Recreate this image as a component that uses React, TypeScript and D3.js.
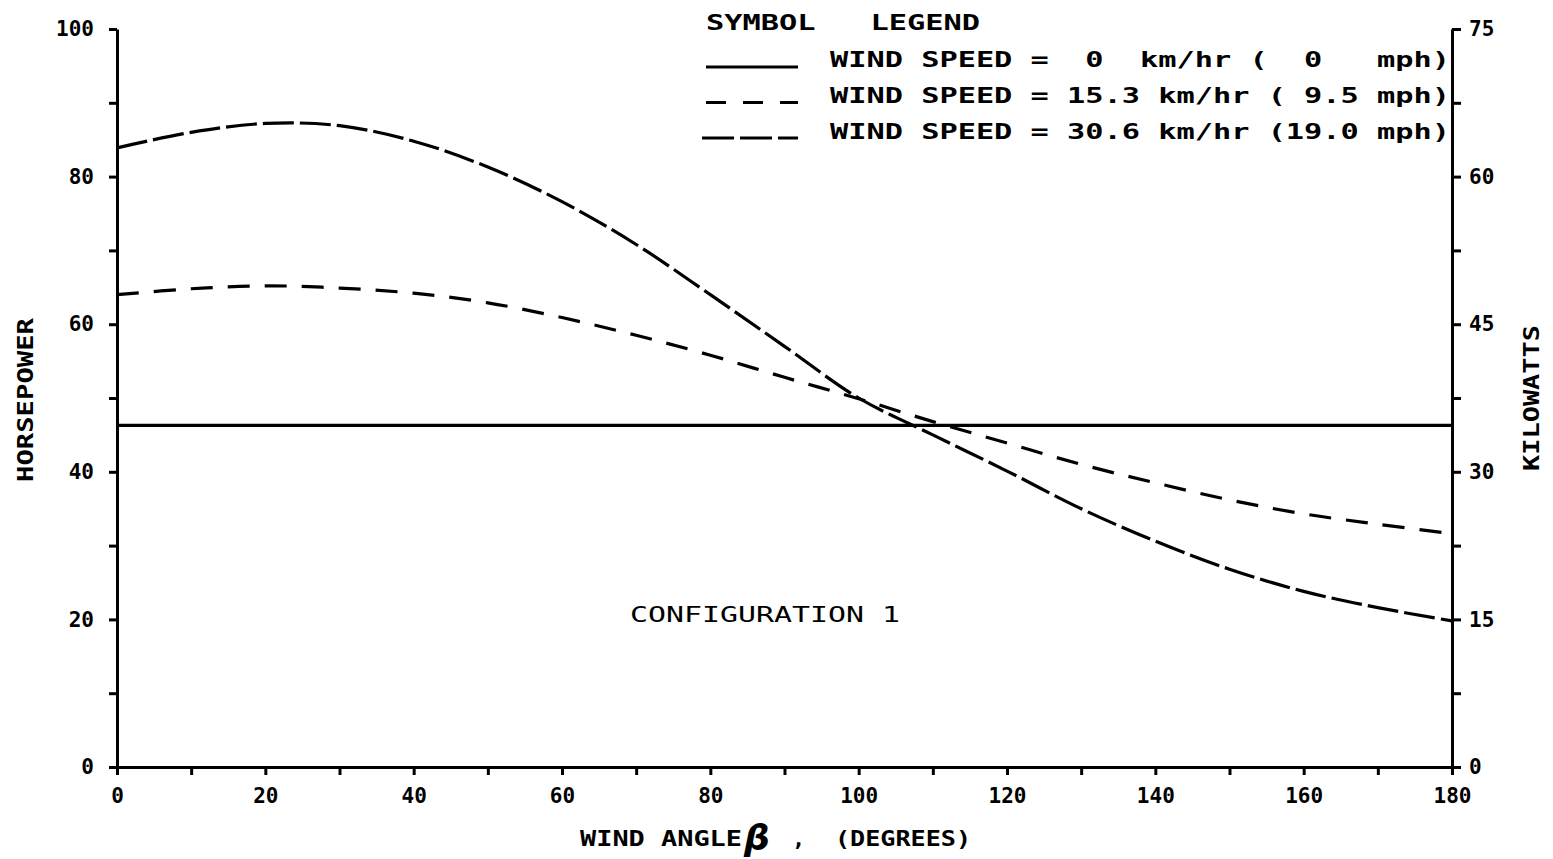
import React, { useEffect, useRef } from "react";
import * as d3 from "d3";

// wind angle (degrees) sampled every 10
const angles = [0, 10, 20, 30, 40, 50, 60, 70, 80, 90, 100, 110, 120, 130, 140, 150, 160, 170, 180];
// horsepower, wind speed 0 km/hr
const hpCalm = [46.3, 46.3, 46.3, 46.3, 46.3, 46.3, 46.3, 46.3, 46.3, 46.3, 46.3, 46.3, 46.3, 46.3, 46.3, 46.3, 46.3, 46.3, 46.3];
// horsepower, wind speed 15.3 km/hr
const hpMid = [64.0, 64.8, 65.2, 64.9, 64.2, 62.9, 60.9, 58.5, 55.8, 52.8, 49.9, 46.8, 43.9, 41.0, 38.5, 36.2, 34.3, 32.9, 31.6];
// horsepower, wind speed 30.6 km/hr
const hpHigh = [83.9, 86.0, 87.2, 86.9, 84.8, 81.3, 76.6, 70.8, 64.0, 57.0, 50.0, 45.0, 40.1, 35.0, 30.6, 26.8, 23.8, 21.6, 19.8];

const xTicks = d3.range(0, 181, 10);
const hpTicks = d3.range(0, 101, 10);
const kwTicks = d3.range(0, 76, 7.5);

const legendRows = [
  { label: "WIND SPEED =  0  km/hr (  0   mph)", dash: "none" },
  { label: "WIND SPEED = 15.3 km/hr ( 9.5 mph)", dash: "20,17" },
  { label: "WIND SPEED = 30.6 km/hr (19.0 mph)", dash: "32,6" },
];

const FONT = "'DejaVu Sans Mono', monospace";

export default function App() {
  const ref = useRef<SVGSVGElement>(null);
  const width = 1553, height = 859;
  const x = d3.scaleLinear().domain([0, 180]).range([117, 1452]);
  const y = d3.scaleLinear().domain([0, 100]).range([767, 29]);
  const yKw = d3.scaleLinear().domain([0, 75]).range([767, 29]);

  const line = d3
    .line<number>()
    .x((_, i) => x(angles[i]))
    .y((d) => y(d))
    .curve(d3.curveCatmullRom.alpha(0.5));

  const series = [
    { values: hpCalm, dash: "none" },
    { values: hpMid, dash: "22,15" },
    { values: hpHigh, dash: "31,6" },
  ];

  useEffect(() => {
    const svg = d3.select(ref.current);
    const style = (g: any) => {
      g.select(".domain").attr("stroke-width", 3);
      g.selectAll(".tick line").attr("stroke-width", 3);
      g.selectAll("text")
        .attr("font-family", FONT)
        .attr("font-weight", "bold")
        .attr("font-size", 21)
        .attr("fill", "#000");
    };

    svg.select<SVGGElement>(".x-axis")
      .attr("transform", `translate(0,${y(0)})`)
      .call(
        d3.axisBottom(x).tickValues(xTicks).tickSize(8).tickSizeOuter(0).tickPadding(13)
          .tickFormat((d: any) => (d % 20 === 0 ? String(d) : ""))
      )
      .call(style);

    svg.select<SVGGElement>(".y-axis")
      .attr("transform", `translate(${x(0)},0)`)
      .call(
        d3.axisLeft(y).tickValues(hpTicks).tickSize(8).tickSizeOuter(0).tickPadding(15)
          .tickFormat((d: any) => (d % 20 === 0 ? String(d) : ""))
      )
      .call(style);

    svg.select<SVGGElement>(".y2-axis")
      .attr("transform", `translate(${x(180)},0)`)
      .call(
        d3.axisRight(yKw).tickValues(kwTicks).tickSize(9).tickSizeOuter(0).tickPadding(8)
          .tickFormat((d: any) => (d % 15 === 0 ? String(d) : ""))
      )
      .call(style);
  }, []);

  return (
    <svg ref={ref} width={width} height={height} style={{ display: "block", position: "absolute", left: 0, top: 0, background: "#fff" }}>
      <g className="x-axis" />
      <g className="y-axis" />
      <g className="y2-axis" />

      {series.map((s, i) => (
        <path key={i} d={line(s.values) || ""} fill="none" stroke="#000" strokeWidth={3.2} strokeDasharray={s.dash} />
      ))}

      {/* legend */}
      <g fontFamily={FONT} fontWeight="bold" fontSize={22} fill="#000">
        <text x={706} y={30} xmlSpace="preserve" textLength={274} lengthAdjust="spacingAndGlyphs">SYMBOL   LEGEND</text>
        {legendRows.map((r, i) => (
          <g key={i}>
            <line x1={i === 2 ? 702 : 706} x2={798} y1={67 + i * 35.5} y2={67 + i * 35.5} stroke="#000" strokeWidth={3} strokeDasharray={r.dash} />
            <text x={830} y={67 + i * 36} xmlSpace="preserve" textLength={620} lengthAdjust="spacingAndGlyphs">{r.label}</text>
          </g>
        ))}
      </g>

      <text x={630} y={622} fontFamily={FONT} fontSize={22} textLength={270} lengthAdjust="spacingAndGlyphs" fill="#000">
        CONFIGURATION 1
      </text>

      {/* axis titles */}
      <g fontFamily={FONT} fontWeight="bold" fontSize={22} fill="#000">
        <text x={580} y={846} textLength={162} lengthAdjust="spacingAndGlyphs">WIND ANGLE</text>
        <text x={744} y={850} fontSize={36} fontStyle="italic" fontFamily="'DejaVu Sans', sans-serif">β</text>
        <text x={792} y={846}>,</text>
        <text x={835} y={846} textLength={136} lengthAdjust="spacingAndGlyphs">(DEGREES)</text>
        <text transform="translate(33,400) rotate(-90)" textAnchor="middle" textLength={164} lengthAdjust="spacingAndGlyphs">HORSEPOWER</text>
        <text transform="translate(1539,398) rotate(-90)" textAnchor="middle" textLength={146} lengthAdjust="spacingAndGlyphs">KILOWATTS</text>
      </g>
    </svg>
  );
}
